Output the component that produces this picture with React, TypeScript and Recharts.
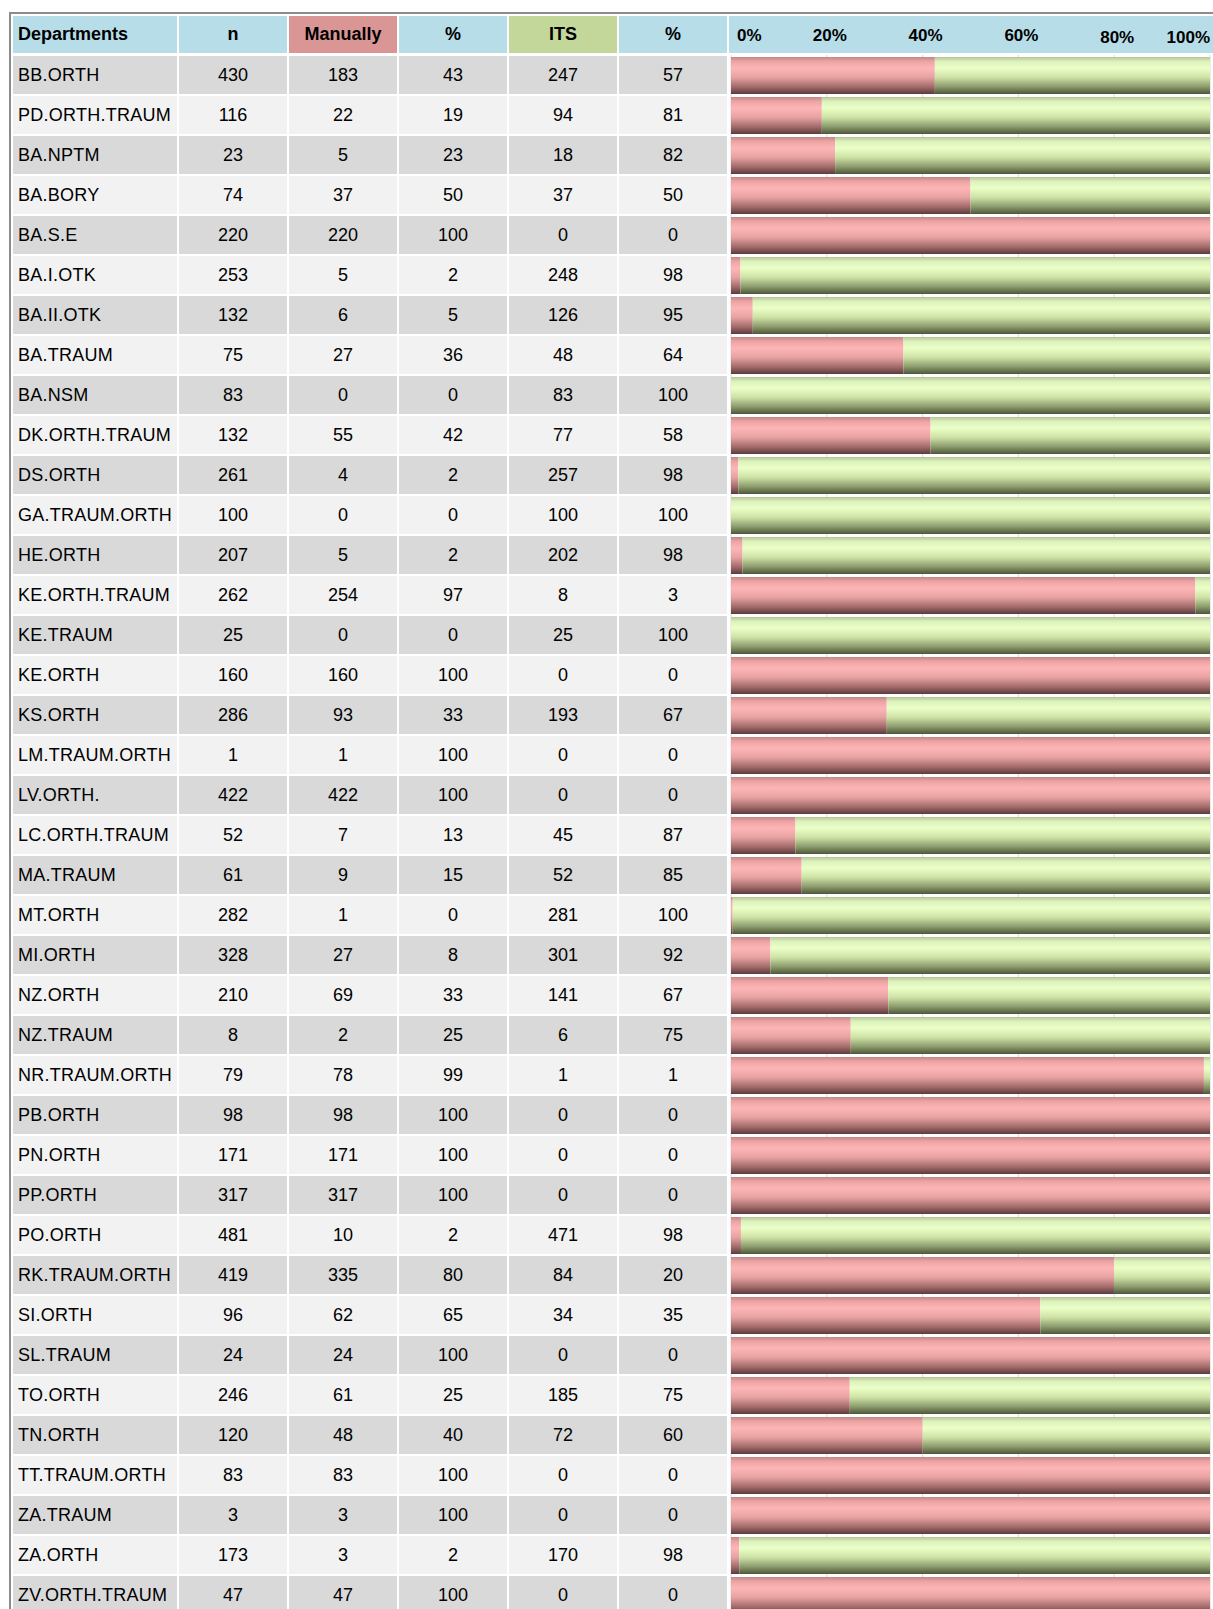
import { BarChart, Bar, XAxis, YAxis, CartesianGrid } from 'recharts';

const departments = [
  'BB.ORTH', 'PD.ORTH.TRAUM', 'BA.NPTM', 'BA.BORY', 'BA.S.E', 'BA.I.OTK', 'BA.II.OTK', 'BA.TRAUM',
  'BA.NSM', 'DK.ORTH.TRAUM', 'DS.ORTH', 'GA.TRAUM.ORTH', 'HE.ORTH', 'KE.ORTH.TRAUM', 'KE.TRAUM',
  'KE.ORTH', 'KS.ORTH', 'LM.TRAUM.ORTH', 'LV.ORTH.', 'LC.ORTH.TRAUM', 'MA.TRAUM', 'MT.ORTH',
  'MI.ORTH', 'NZ.ORTH', 'NZ.TRAUM', 'NR.TRAUM.ORTH', 'PB.ORTH', 'PN.ORTH', 'PP.ORTH', 'PO.ORTH',
  'RK.TRAUM.ORTH', 'SI.ORTH', 'SL.TRAUM', 'TO.ORTH', 'TN.ORTH', 'TT.TRAUM.ORTH', 'ZA.TRAUM',
  'ZA.ORTH', 'ZV.ORTH.TRAUM',
];
const totals = [
  430, 116, 23, 74, 220, 253, 132, 75, 83, 132, 261, 100, 207, 262, 25, 160, 286, 1, 422, 52, 61,
  282, 328, 210, 8, 79, 98, 171, 317, 481, 419, 96, 24, 246, 120, 83, 3, 173, 47,
];
const manually = [
  183, 22, 5, 37, 220, 5, 6, 27, 0, 55, 4, 0, 5, 254, 0, 160, 93, 1, 422, 7, 9, 1, 27, 69, 2, 78,
  98, 171, 317, 10, 335, 62, 24, 61, 48, 83, 3, 3, 47,
];
const manualPct = [
  43, 19, 23, 50, 100, 2, 5, 36, 0, 42, 2, 0, 2, 97, 0, 100, 33, 100, 100, 13, 15, 0, 8, 33, 25,
  99, 100, 100, 100, 2, 80, 65, 100, 25, 40, 100, 100, 2, 100,
];
const its = [
  247, 94, 18, 37, 0, 248, 126, 48, 83, 77, 257, 100, 202, 8, 25, 0, 193, 0, 0, 45, 52, 281, 301,
  141, 6, 1, 0, 0, 0, 471, 84, 34, 0, 185, 72, 0, 0, 170, 0,
];
const itsPct = [
  57, 81, 82, 50, 0, 98, 95, 64, 100, 58, 98, 100, 98, 3, 100, 0, 67, 0, 0, 87, 85, 100, 92, 67,
  75, 1, 0, 0, 0, 98, 20, 35, 0, 75, 60, 0, 0, 98, 0,
];
const headers = ['Departments', 'n', 'Manually', '%', 'ITS', '%'];
const percentTicks = [0, 0.2, 0.4, 0.6, 0.8, 1];

const data = departments.map((name, i) => ({
  name,
  n: totals[i],
  manually: manually[i],
  manualPct: manualPct[i],
  its: its[i],
  itsPct: itsPct[i],
}));

const FONT = '"Liberation Sans", Arial, sans-serif';
const COLS = [
  { x: 5, w: 164 },
  { x: 171, w: 108 },
  { x: 281, w: 108 },
  { x: 391, w: 108 },
  { x: 501, w: 108 },
  { x: 611, w: 108 },
];
const HEAD_FILLS = ['#b7dde8', '#b7dde8', '#da9694', '#b7dde8', '#c4d79b', '#b7dde8'];

// one table row per category tick, so the cells line up with the bars
const RowTick = ({ y, payload }: any) => {
  const i = departments.indexOf(payload.value);
  if (i < 0) return null;
  const row = data[i];
  const fill = i % 2 === 0 ? '#d9d9d9' : '#f2f2f2';
  const values = [row.name, row.n, row.manually, row.manualPct, row.its, row.itsPct];
  return (
    <g>
      {COLS.map((c, k) => (
        <g key={k}>
          <rect x={c.x} y={y - 19} width={c.w} height={38} fill={fill} />
          <text
            x={k === 0 ? c.x + 5 : c.x + c.w / 2}
            y={y + 6}
            textAnchor={k === 0 ? 'start' : 'middle'}
            fontFamily={FONT}
            fontSize={18}
            letterSpacing={k === 0 ? 0.25 : 0}
            fill="#000"
          >
            {values[k]}
          </text>
        </g>
      ))}
    </g>
  );
};

const PercentTick = ({ x, payload }: any) => {
  const v = payload.value;
  const anchor = v === 0 ? 'start' : v === 1 ? 'end' : 'middle';
  const dx = v === 0 ? 6 : v === 1 ? 0 : 3;
  return (
    <text
      x={x + dx}
      y={v >= 0.8 ? 35 : 33}
      textAnchor={anchor}
      fontFamily={FONT}
      fontWeight={700}
      fontSize={17}
      fill="#000"
    >
      {`${Math.round(v * 100)}%`}
    </text>
  );
};

const App = () => {
  return (
    <div
      style={{
        position: 'fixed',
        left: 8,
        top: 8,
        width: 1205,
        height: 1601,
        overflow: 'hidden',
        fontFamily: FONT,
        background: '#fff',
      }}
    >
      <div
        style={{
          position: 'absolute',
          left: 1,
          top: 4,
          width: 1400,
          height: 1800,
          borderTop: '2px solid #8c8c8c',
          borderLeft: '2px solid #8c8c8c',
        }}
      />
      {headers.map((h, k) => (
        <div
          key={k}
          style={{
            position: 'absolute',
            left: COLS[k].x,
            top: 8,
            width: COLS[k].w,
            height: 37,
            background: HEAD_FILLS[k],
            fontWeight: 700,
            fontSize: 18,
            lineHeight: '37px',
            textAlign: k === 0 ? 'left' : 'center',
            paddingLeft: k === 0 ? 5 : 0,
            boxSizing: 'border-box',
          }}
        >
          {h}
        </div>
      ))}
      <div
        style={{
          position: 'absolute',
          left: 721,
          top: 8,
          width: 500,
          height: 37,
          background: '#b7dde8',
        }}
      />
      <div style={{ position: 'absolute', left: 0, top: 0 }}>
        <BarChart
          width={1205}
          height={1610}
          data={data}
          layout="vertical"
          stackOffset="expand"
          barSize={37}
          margin={{ top: 17, right: 3, bottom: 3, left: 0 }}
        >
          <defs>
            <linearGradient id="redBar" x1="0" y1="0" x2="0" y2="1">
              <stop offset="0%" stopColor="#c08686" />
              <stop offset="12%" stopColor="#eca4a4" />
              <stop offset="30%" stopColor="#ffb5b5" />
              <stop offset="55%" stopColor="#e6a2a2" />
              <stop offset="80%" stopColor="#a56c6c" />
              <stop offset="100%" stopColor="#5c3b3b" />
            </linearGradient>
            <linearGradient id="greenBar" x1="0" y1="0" x2="0" y2="1">
              <stop offset="0%" stopColor="#b4c496" />
              <stop offset="12%" stopColor="#dcf2bc" />
              <stop offset="30%" stopColor="#ebffc8" />
              <stop offset="55%" stopColor="#cee2a6" />
              <stop offset="80%" stopColor="#8c9c6c" />
              <stop offset="100%" stopColor="#4c573a" />
            </linearGradient>
          </defs>
          <CartesianGrid horizontal={false} stroke="#e2d6d6" />
          <XAxis
            type="number"
            orientation="top"
            domain={[0, 1]}
            ticks={percentTicks}
            height={30}
            axisLine={false}
            tickLine={false}
            tick={<PercentTick />}
            interval={0}
          />
          <YAxis
            type="category"
            dataKey="name"
            width={723}
            axisLine={false}
            tickLine={false}
            interval={0}
            tick={<RowTick />}
          />
          <Bar dataKey="manually" stackId="a" fill="url(#redBar)" isAnimationActive={false} />
          <Bar dataKey="its" stackId="a" fill="url(#greenBar)" isAnimationActive={false} />
        </BarChart>
      </div>
    </div>
  );
};

export default App;
